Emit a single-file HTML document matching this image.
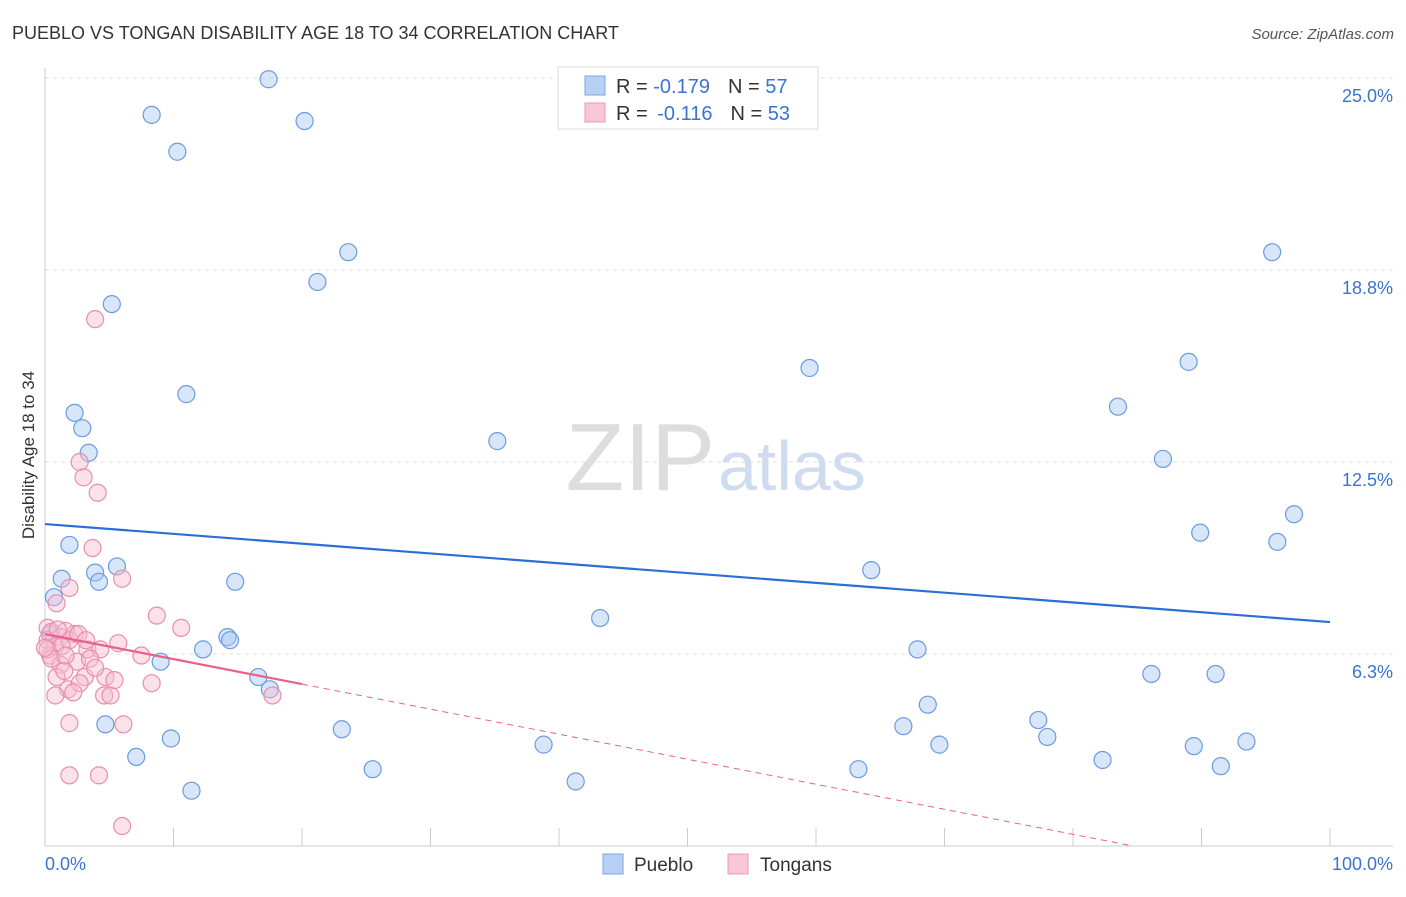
<!DOCTYPE html>
<html><head><meta charset="utf-8"><style>
body{margin:0;background:#fff;font-family:"Liberation Sans",sans-serif;}
svg text{font-family:"Liberation Sans",sans-serif;}
</style></head><body>
<svg id="chart" width="1406" height="892">
<text x="12" y="39" font-size="18" fill="#333">PUEBLO VS TONGAN DISABILITY AGE 18 TO 34 CORRELATION CHART</text>
<text x="1394" y="39" font-size="15" fill="#555" font-style="italic" text-anchor="end">Source: ZipAtlas.com</text>
<text x="34" y="455" font-size="17" fill="#333" text-anchor="middle" transform="rotate(-90 34 455)">Disability Age 18 to 34</text>
<g id="grid"></g>
<text x="715" y="490" font-size="96" fill="#ddd" text-anchor="end" font-family="Liberation Serif">ZIP</text>
<text x="718" y="490" font-size="70" fill="#cfdcf0">atlas</text>
<g id="marks"></g>
<g>
<rect x="558" y="67" width="260" height="62" fill="#fff" stroke="#ddd"/>
<rect x="585" y="76" width="20" height="19" fill="#b8d0f4" stroke="#7aa6e6"/>
<rect x="585" y="103" width="20" height="19" fill="#f8c6d6" stroke="#ec9ab4"/>
<text x="616" y="93" font-size="20" fill="#333">R = <tspan fill="#3b73d4">-0.179</tspan><tspan dx="18">N = </tspan><tspan fill="#3b73d4">57</tspan></text>
<text x="616" y="120" font-size="20" fill="#333">R = <tspan dx="4" fill="#3b73d4">-0.116</tspan><tspan dx="18">N = </tspan><tspan fill="#3b73d4">53</tspan></text>
</g>
<g>
<rect x="603" y="854" width="20" height="20" fill="#b8d0f4" stroke="#7aa6e6"/>
<text x="634" y="871" font-size="19" fill="#333">Pueblo</text>
<rect x="728" y="854" width="20" height="20" fill="#f8c6d6" stroke="#ec9ab4"/>
<text x="760" y="871" font-size="19" fill="#333">Tongans</text>
</g>
</svg>
<script>
const yTicks=[6.25,12.5,18.75,25];
const yTickLabels=["6.3%","12.5%","18.8%","25.0%"];
const xTickLabels=["0.0%","100.0%"];
const puebloX=[17.4,8.3,20.2,10.3,23.6,21.2,5.2,11.0,2.3,2.9,3.4,35.2,1.9,1.3,3.9,5.6,4.2,14.8,0.7,59.5,64.3,95.5,89.0,83.5,87.0,97.2,89.9,95.9,43.2,14.2,14.4,12.3,9.0,16.6,17.5,4.7,7.1,9.8,11.4,23.1,25.5,38.8,41.3,67.9,68.7,66.8,69.6,63.3,77.3,78.0,82.3,86.1,91.1,89.4,93.5,91.5,0.4];
const puebloY=[24.96,23.8,23.6,22.6,19.33,18.36,17.64,14.71,14.1,13.6,12.8,13.18,9.8,8.7,8.9,9.1,8.6,8.6,8.1,15.56,8.98,19.33,15.76,14.3,12.6,10.8,10.2,9.9,7.42,6.8,6.7,6.4,6.0,5.5,5.1,3.96,2.9,3.5,1.8,3.8,2.5,3.3,2.1,6.4,4.6,3.9,3.3,2.5,4.1,3.55,2.8,5.6,5.6,3.25,3.4,2.6,6.9];
const tonganX=[3.9,2.7,3.0,4.1,3.7,6.0,1.9,0.9,8.7,10.6,0.2,0.5,1.2,2.3,1.6,0.2,0.8,1.9,3.3,4.3,5.7,7.5,1.3,0.4,1.2,2.5,3.1,4.7,0.9,1.8,2.7,4.6,5.1,8.3,17.7,1.9,6.1,1.9,4.2,6.0,0.2,0.5,3.5,1.5,2.6,0.0,1.0,2.2,5.4,3.2,1.6,3.9,0.8];
const tonganY=[17.15,12.5,12.0,11.5,9.7,8.7,8.4,7.9,7.5,7.1,7.1,6.97,6.8,6.9,7.0,6.7,6.5,6.7,6.4,6.4,6.6,6.2,6.5,6.2,5.9,6.0,5.5,5.5,5.5,5.1,5.3,4.9,4.9,5.3,4.9,4.0,3.96,2.3,2.3,0.65,6.4,6.1,6.1,5.7,6.9,6.45,7.05,5.0,5.4,6.7,6.2,5.8,4.9];
const puebloTrend=[10.48,7.29];
const tonganTrend=[6.9,-1.25];
const X0=45,X1=1330,Y0=846;
const sx=v=>X0+(X1-X0)*v/100;
const sy=v=>Y0-v*30.72;
const NS="http://www.w3.org/2000/svg";
function mk(t,a,p){const e=document.createElementNS(NS,t);for(const k in a)e.setAttribute(k,a[k]);p.appendChild(e);return e;}
const grid=document.getElementById('grid'),marks=document.getElementById('marks');
yTicks.forEach((v,i)=>{
 const l=mk('line',{x1:45,x2:1393,y1:sy(v),y2:sy(v),stroke:'#ddd','stroke-dasharray':'4,4'},grid);
 
 
 const t=mk('text',{x:1393,y:sy(v)+24,'font-size':18,fill:'#3b73d4','text-anchor':'end'},grid);
 t.textContent=yTickLabels[i];
 
 
});
const ax=mk('line',{x1:45,x2:1393,y1:Y0,y2:Y0,stroke:'#ccc'},grid);


const ay=mk('line',{x1:45,x2:45,y1:68,y2:Y0,stroke:'#ccc'},grid);


for(let i=0;i<=10;i++){
 const tk=mk('line',{x1:sx(i*10),x2:sx(i*10),y1:Y0,y2:Y0-18,stroke:'#ccc'},grid);
 
 
}
[[45,'start',0],[1393,'end',1]].forEach(([x,a,i])=>{
 const t=mk('text',{x:x,y:870,'font-size':18,fill:'#3b73d4','text-anchor':a},grid);
 t.textContent=xTickLabels[i];
 
 
});
function pts(xs,ys,fill,stroke,name){
 xs.forEach((x,i)=>{
  const c=mk('circle',{cx:sx(x),cy:sy(ys[i]),r:8.5,fill:fill,'fill-opacity':0.45,stroke:stroke,'stroke-width':1.2},marks);
  
  
 });
}
pts(puebloX,puebloY,'#a9c8f2','#6b9be0','pueblo-point');
pts(tonganX,tonganY,'#f7bcd0','#e88fad','tongan-point');
const bl=mk('line',{x1:sx(0),y1:sy(puebloTrend[0]),x2:sx(100),y2:sy(puebloTrend[1]),stroke:'#2a6fd6','stroke-width':2.2},marks);


const tAt=x=>tonganTrend[0]+(tonganTrend[1]-tonganTrend[0])*x/100;
const pl=mk('line',{x1:sx(0),y1:sy(tAt(0)),x2:sx(20),y2:sy(tAt(20)),stroke:'#e8608c','stroke-width':2.2},marks);


const xEnd=(0-tonganTrend[0])/(tonganTrend[1]-tonganTrend[0])*100;
const pd=mk('line',{x1:sx(20),y1:sy(tAt(20)),x2:sx(xEnd),y2:sy(0),stroke:'#e8608c','stroke-width':1,'stroke-dasharray':'6,5'},marks);


</script>
</body></html>
